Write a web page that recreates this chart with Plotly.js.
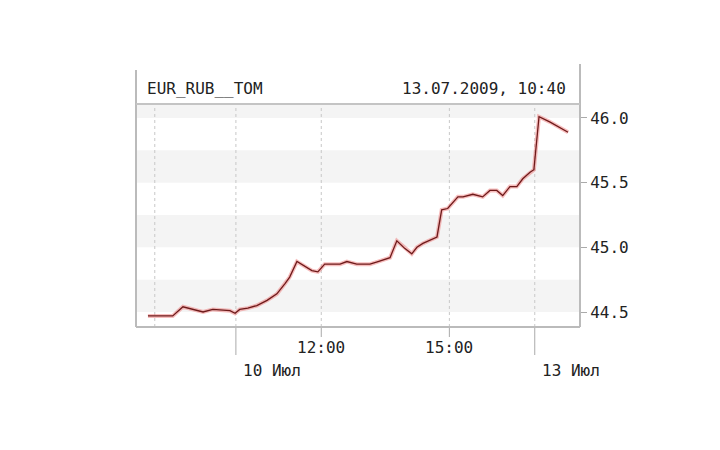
<!DOCTYPE html>
<html><head><meta charset="utf-8">
<script src="https://cdn.plot.ly/plotly-3.0.1.min.js"></script>
<style>html,body{margin:0;padding:0;background:#fff;}#chart{width:720px;height:450px;}</style>
</head><body><div id="chart"></div>
<script>
// trading-time axis: hours from 10 Jul 10:00 (non-trading time removed)
const times = [-2.06,-1.48,-1.24,-1.03,-0.77,-0.54,-0.14,-0.02,0.09,0.28,0.49,0.73,0.96,1.15,1.26,1.43,1.57,1.78,1.92,2.08,2.44,2.60,2.83,3.14,3.33,3.61,3.77,3.96,4.12,4.24,4.38,4.71,4.82,4.96,5.20,5.32,5.55,5.78,5.95,6.11,6.25,6.42,6.58,6.72,6.89,6.98,7.10,7.35,7.78];
const rates = [44.47,44.47,44.54,44.52,44.50,44.52,44.51,44.49,44.52,44.53,44.55,44.59,44.64,44.72,44.77,44.89,44.86,44.82,44.81,44.87,44.87,44.89,44.87,44.87,44.89,44.92,45.05,44.99,44.95,45.00,45.03,45.08,45.29,45.30,45.39,45.39,45.41,45.39,45.44,45.44,45.40,45.47,45.47,45.53,45.58,45.60,46.01,45.97,45.89];
const gridTimes = [-1.9, 0, 2, 5, 7];
const hourTicks = [2, 5];
const hourLabels = ['12:00', '15:00'];
const dayTicks = [0, 7];
const dayLabels = ['10 Июл', '13 Июл'];
const yTicks = [44.5, 45.0, 45.5, 46.0];
const yLabels = ['44.5', '45.0', '45.5', '46.0'];
const bandStarts = [44.5, 45.0, 45.5, 46.0];
const ticker = 'EUR_RUB__TOM';
const stamp = '13.07.2009, 10:40';

const font = 'DejaVu Sans Mono, monospace';
const txt = '#222';
const shapes = [];
bandStarts.forEach(b => shapes.push({type:'rect', xref:'paper', yref:'y', x0:0, x1:1, y0:b, y1:b+0.25, fillcolor:'#f4f4f4', line:{width:0}, layer:'below'}));
gridTimes.forEach(t => shapes.push({type:'line', xref:'x', yref:'paper', x0:t, x1:t, y0:0, y1:1, line:{color:'#c8c8c8', width:1, dash:'dot'}, layer:'below'}));
hourTicks.forEach(t => shapes.push({type:'line', xref:'x', yref:'paper', x0:t, x1:t, y0:0, y1:-10/223, line:{color:'#aaa', width:1}}));
dayTicks.forEach(t => shapes.push({type:'line', xref:'x', yref:'paper', x0:t, x1:t, y0:0, y1:-28/223, line:{color:'#aaa', width:1}}));
// frame
shapes.push({type:'line', xref:'paper', yref:'paper', x0:0, x1:1, y0:0, y1:0, line:{color:'#bbb', width:2}});
shapes.push({type:'line', xref:'paper', yref:'paper', x0:0, x1:0, y0:0, y1:1+34/223, line:{color:'#bbb', width:2}});
shapes.push({type:'line', xref:'paper', yref:'paper', x0:1, x1:1, y0:0, y1:1+40/223, line:{color:'#bbb', width:2}});
shapes.push({type:'line', xref:'paper', yref:'paper', x0:0, x1:1, y0:1, y1:1, line:{color:'#c4c4c4', width:2}});

const annotations = [];
hourTicks.forEach((t,i) => annotations.push({x:t, xref:'x', y:0, yref:'paper', yshift:-20, text:hourLabels[i], showarrow:false, xanchor:'center', yanchor:'middle', font:{family:font, size:16, color:txt}}));
dayTicks.forEach((t,i) => annotations.push({x:t, xref:'x', y:0, yref:'paper', yshift:-43, xshift:5, text:dayLabels[i], showarrow:false, xanchor:'left', yanchor:'middle', font:{family:font, size:16, color:txt}}));
annotations.push({x:0, xref:'paper', y:1, yref:'paper', yshift:16, xshift:9, text:ticker, showarrow:false, xanchor:'left', yanchor:'middle', font:{family:font, size:16, color:txt}});
annotations.push({x:1, xref:'paper', y:1, yref:'paper', yshift:16, xshift:-12, text:stamp, showarrow:false, xanchor:'right', yanchor:'middle', font:{family:font, size:16, color:txt}});

const data = [
  {x:times, y:rates, type:'scatter', mode:'lines', line:{color:'rgba(235,90,90,0.4)', width:4}, hoverinfo:'skip'},
  {x:times, y:rates, type:'scatter', mode:'lines', line:{color:'#6e1a1a', width:1.3}}
];
const layout = {
  width:720, height:450, showlegend:false,
  paper_bgcolor:'#fff', plot_bgcolor:'#fff',
  margin:{l:136, r:140, t:104, b:123},
  xaxis:{range:[-2.34, 8.06], showgrid:false, zeroline:false, showticklabels:false, ticks:'', showline:false},
  yaxis:{range:[44.384, 46.108], side:'right', tickvals:yTicks, ticktext:yLabels, showgrid:false, zeroline:false, ticks:'outside', ticklen:6, tickcolor:'#aaa', tickfont:{family:font, size:16, color:txt}, showline:false},
  shapes:shapes, annotations:annotations
};
Plotly.newPlot('chart', data, layout, {staticPlot:true});
</script></body></html>
